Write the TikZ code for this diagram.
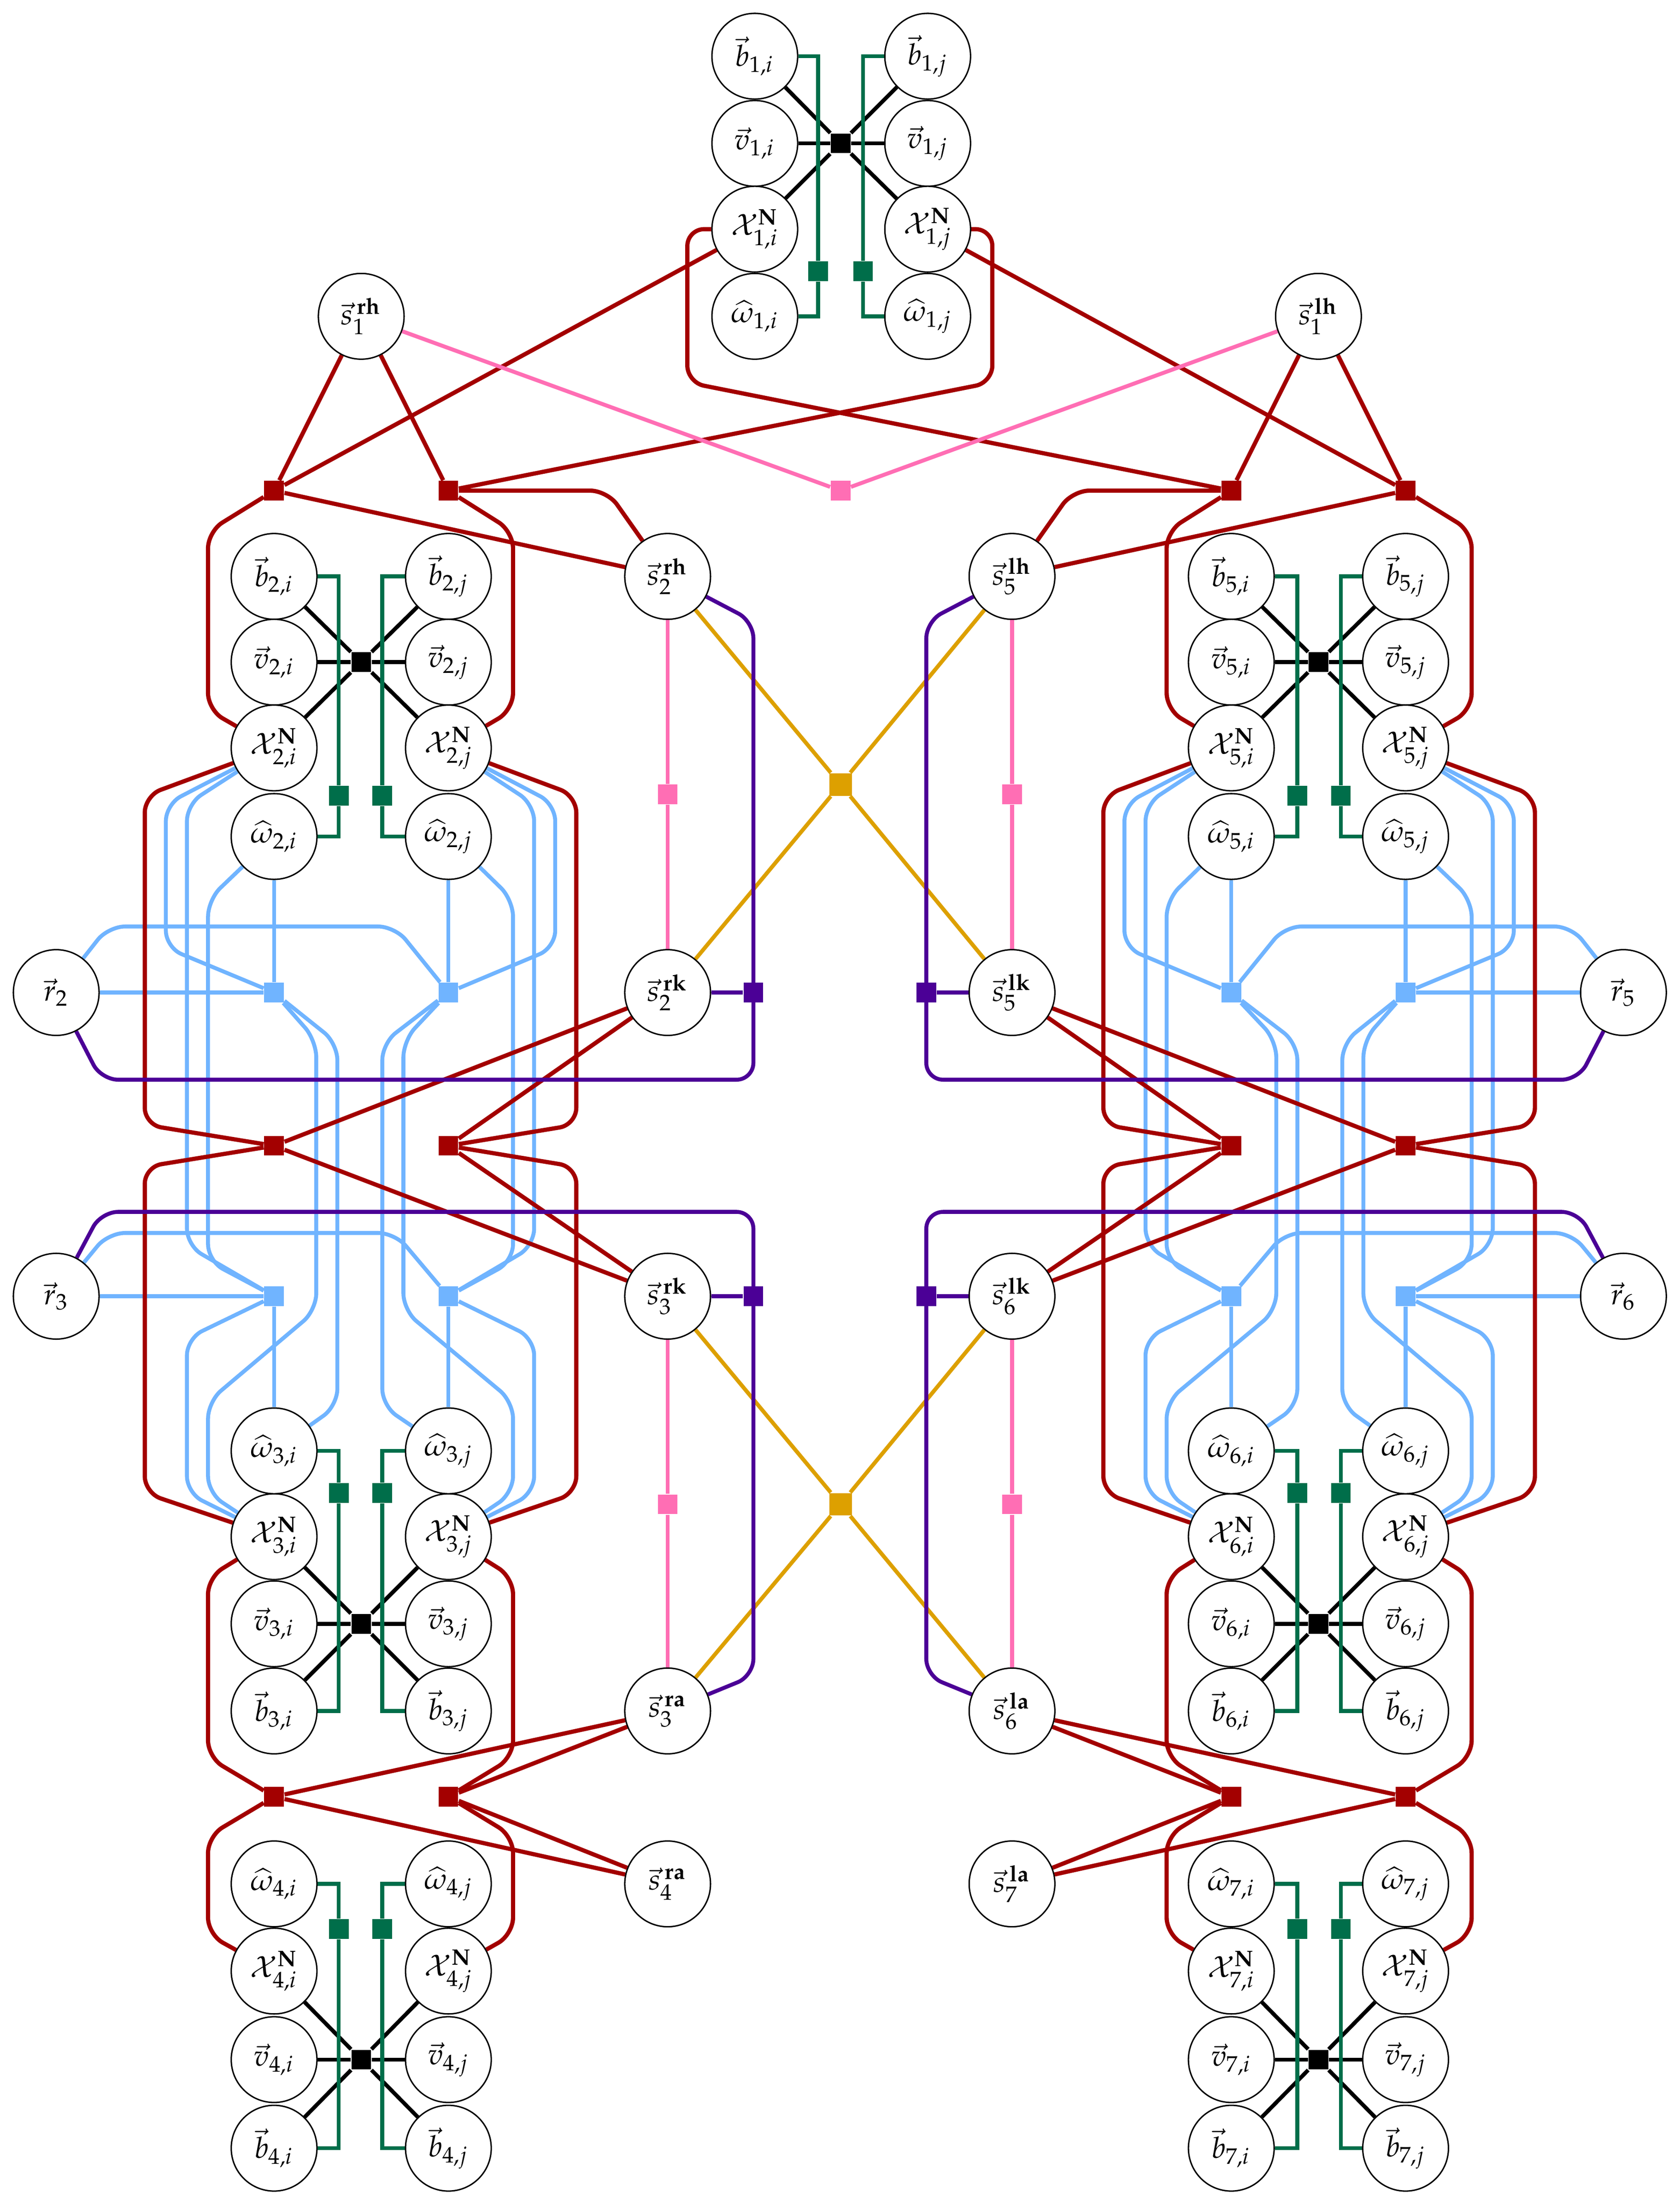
\documentclass[tikz,border=0pt]{standalone}
\usepackage{mathpazo}
\pgfdeclarelayer{bg}\pgfsetlayers{bg,main}
\definecolor{redD}{HTML}{A30000}
\definecolor{grnD}{HTML}{006E4A}
\definecolor{bluL}{HTML}{70B4FF}
\definecolor{pnk}{HTML}{FF6EB4}
\definecolor{org}{HTML}{DDA000}
\definecolor{pur}{HTML}{4B0096}
\tikzset{
 var/.style={circle,draw,line width=0.5pt,fill=white,minimum size=30.5pt,inner sep=0pt,font=\fontsize{10.5}{12}\selectfont},
 fac/.style={rectangle,fill=#1,minimum size=7pt,inner sep=0pt},
 kl/.style={black,line width=1.4pt},
 gl/.style={grnD,line width=1.4pt},
 rl/.style={redD,line width=1.5pt,rounded corners=6pt},
 bl/.style={bluL,line width=1.4pt,rounded corners=6pt},
 pl/.style={pnk,line width=1.4pt},
 ol/.style={org,line width=1.4pt},
 ul/.style={pur,line width=1.4pt,rounded corners=6pt}
}
\newcommand\grp[8]{%
 \node[var] (#1-b) at (#3,#5) {$\vec b_{#2,#4}$};
 \node[var] (#1-v) at (#3,#6) {$\vec v_{#2,#4}$};
 \node[var] (#1-X) at (#3,#7) {$\mathcal{X}^{\mathbf{N}}_{#2,#4}$};
 \node[var] (#1-w) at (#3,#8) {$\widehat\omega_{#2,#4}$};
}
\newcommand\halfside[9]{%
 \node[var] (#1s1) at (257,225) {$\vec s_1^{\,\mathbf{#7h}}$};
 \node[var] (#1s2h) at (475,410) {$\vec s_{#4}^{\,\mathbf{#7h}}$};
 \node[var] (#1s2k) at (475,706) {$\vec s_{#4}^{\,\mathbf{#7k}}$};
 \node[var] (#1s3k) at (475,922) {$\vec s_{#5}^{\,\mathbf{#7k}}$};
 \node[var] (#1s3a) at (475,1217) {$\vec s_{#5}^{\,\mathbf{#7a}}$};
 \node[var] (#1s4a) at (475,1340) {$\vec s_{#6}^{\,\mathbf{#7a}}$};
 \node[var] (#1r2) at (40,706) {$\vec r_{#4}$};
 \node[var] (#1r3) at (40,922) {$\vec r_{#5}$};
 \grp{#1A}{#4}{195}{#2}{410}{471}{532}{595}
 \grp{#1B}{#4}{319}{#3}{410}{471}{532}{595}
 \grp{#1C}{#5}{195}{#2}{1217}{1155}{1093}{1032}
 \grp{#1D}{#5}{319}{#3}{1217}{1155}{1093}{1032}
 \grp{#1E}{#6}{195}{#2}{1528}{1465}{1402}{1340}
 \grp{#1F}{#6}{319}{#3}{1528}{1465}{1402}{1340}
 \node[fac=black] (#1K2) at (257,471) {};
 \node[fac=black] (#1K3) at (257,1155) {};
 \node[fac=black] (#1K4) at (257,1465) {};
 \node[fac=grnD] (#1GA) at (241,566) {};
 \node[fac=grnD] (#1GB) at (272,566) {};
 \node[fac=grnD] (#1GC) at (241,1062) {};
 \node[fac=grnD] (#1GD) at (272,1062) {};
 \node[fac=grnD] (#1GE) at (241,1372) {};
 \node[fac=grnD] (#1GF) at (272,1372) {};
 \node[fac=redD] (#1R1o) at (195,349) {};
 \node[fac=redD] (#1R1i) at (319,349) {};
 \node[fac=redD] (#1R2o) at (195,815) {};
 \node[fac=redD] (#1R2i) at (319,815) {};
 \node[fac=redD] (#1R3o) at (195,1278) {};
 \node[fac=redD] (#1R3i) at (319,1278) {};
 \node[fac=pnk] (#1P1) at (475,565) {};
 \node[fac=pnk] (#1P2) at (475,1070) {};
 \node[fac=pur] (#1U1) at (536,706) {};
 \node[fac=pur] (#1U2) at (536,922) {};
 \node[fac=bluL] (#1L2o) at (195,706) {};
 \node[fac=bluL] (#1L2i) at (319,706) {};
 \node[fac=bluL] (#1L3o) at (195,922) {};
 \node[fac=bluL] (#1L3i) at (319,922) {};
 \begin{pgfonlayer}{bg}
 \foreach \n in {b,v,X}{
  \draw[kl] (#1K2) -- (#1A-\n); \draw[kl] (#1K2) -- (#1B-\n);
  \draw[kl] (#1K3) -- (#1C-\n); \draw[kl] (#1K3) -- (#1D-\n);
  \draw[kl] (#1K4) -- (#1E-\n); \draw[kl] (#1K4) -- (#1F-\n);}
 \draw[gl] (#1A-b) -| (#1GA) |- (#1A-w);
 \draw[gl] (#1B-b) -| (#1GB) |- (#1B-w);
 \draw[gl] (#1C-w) -| (#1GC) |- (#1C-b);
 \draw[gl] (#1D-w) -| (#1GD) |- (#1D-b);
 \draw[gl] (#1E-w) -| (#1GE) |- (#1E-b);
 \draw[gl] (#1F-w) -| (#1GF) |- (#1F-b);
 % blue
 \draw[bl] (#1A-X) -- (118,572) -- (118,674) -- (#1L2o);
 \draw[bl] (#1A-X) -- (133,572) -- (133,886) -- (#1L3o);
 \draw[bl] (#1A-w) -- (148,640) -- (148,897) -- (#1L3o);
 \draw[bl] (#1A-w) -- (#1L2o);
 \draw[bl] (#1L2o) -- (225,740) -- (225,932) -- (148,997) -- (148,1062) -- (#1C-X);
 \draw[bl] (#1L2o) -- (240,742) -- (240,1000) -- (#1C-w);
 \draw[bl] (#1r2) -- (#1L2o);
 \draw[bl] (#1r2) -- (77,659) -- (281,659) -- (#1L2i);
 \draw[bl] (#1B-X) -- (395,572) -- (395,674) -- (#1L2i);
 \draw[bl] (#1B-X) -- (380,572) -- (380,886) -- (#1L3i);
 \draw[bl] (#1B-w) -- (365,640) -- (365,897) -- (#1L3i);
 \draw[bl] (#1B-w) -- (#1L2i);
 \draw[bl] (#1L2i) -- (287,740) -- (287,932) -- (365,997) -- (365,1062) -- (#1D-X);
 \draw[bl] (#1L2i) -- (272,742) -- (272,1000) -- (#1D-w);
 \draw[bl] (#1r3) -- (#1L3o);
 \draw[bl] (#1r3) -- (77,877) -- (281,877) -- (#1L3i);
 \draw[bl] (#1C-w) -- (#1L3o);
 \draw[bl] (#1D-w) -- (#1L3i);
 \draw[bl] (#1L3o) -- (133,952) -- (133,1062) -- (#1C-X);
 \draw[bl] (#1L3i) -- (380,952) -- (380,1062) -- (#1D-X);
 % red
 \draw[rl] (#1R1o) -- (#1s1);
 \draw[rl] (#1R1i) -- (#1s1);
 \draw[rl] (#1R1o) -- (#8);
 \draw[rl] (#9) -- (706,163) -- (706,272) -- (#1R1i);
 \draw[rl] (#1R1o) -- (#1s2h);
 \draw[rl] (#1R1i) -- (432,349) -- (#1s2h);
 \draw[rl] (#1R1o) -- (148,378) -- (148,505) -- (#1A-X);
 \draw[rl] (#1R1i) -- (365,378) -- (365,505) -- (#1B-X);
 \draw[rl] (#1A-X) -- (103,566) -- (103,800) -- (#1R2o);
 \draw[rl] (#1R2o) -- (103,830) -- (103,1062) -- (#1C-X);
 \draw[rl] (#1B-X) -- (410,566) -- (410,800) -- (#1R2i);
 \draw[rl] (#1R2i) -- (410,830) -- (410,1062) -- (#1D-X);
 \draw[rl] (#1R2o) -- (#1s2k); \draw[rl] (#1R2o) -- (#1s3k);
 \draw[rl] (#1R2i) -- (#1s2k); \draw[rl] (#1R2i) -- (#1s3k);
 \draw[rl] (#1C-X) -- (148,1122) -- (148,1250) -- (#1R3o);
 \draw[rl] (#1R3o) -- (148,1306) -- (148,1376) -- (#1E-X);
 \draw[rl] (#1D-X) -- (365,1122) -- (365,1250) -- (#1R3i);
 \draw[rl] (#1R3i) -- (365,1306) -- (365,1376) -- (#1F-X);
 \draw[rl] (#1R3o) -- (#1s3a); \draw[rl] (#1R3o) -- (#1s4a);
 \draw[rl] (#1R3i) -- (#1s3a); \draw[rl] (#1R3i) -- (#1s4a);
 % pink, orange
 \draw[pl] (#1s1) -- (PC);
 \draw[pl] (#1s2h) -- (#1P1) -- (#1s2k);
 \draw[pl] (#1s3k) -- (#1P2) -- (#1s3a);
 \draw[ol] (#1s2h) -- (O1); \draw[ol] (#1s2k) -- (O1);
 \draw[ol] (#1s3k) -- (O2); \draw[ol] (#1s3a) -- (O2);
 % purple
 \draw[ul] (#1s2h) -- (536,442) -- (536,768) -- (72,768) -- (#1r2);
 \draw[ul] (#1U1) -- (#1s2k);
 \draw[ul] (#1r3) -- (72,862) -- (536,862) -- (536,1192) -- (#1s3a);
 \draw[ul] (#1U2) -- (#1s3k);
 \end{pgfonlayer}
}
\begin{document}
\begin{tikzpicture}[x=0.5pt,y=-0.5pt]
\useasboundingbox (0,0) rectangle (1195,1567);
\grp{G1i}{1}{537}{i}{40}{102}{163}{225}
\grp{G1j}{1}{660}{j}{40}{102}{163}{225}
\node[fac=black] (K1) at (598,102) {};
\node[fac=grnD] (GF1i) at (582,193) {};
\node[fac=grnD] (GF1j) at (614,193) {};
\node[fac=pnk] (PC) at (598,349) {};
\node[fac=org,minimum size=8pt] (O1) at (598,558) {};
\node[fac=org,minimum size=8pt] (O2) at (598,1070) {};
\begin{pgfonlayer}{bg}
\foreach \n in {b,v,X}{\draw[kl] (K1) -- (G1i-\n); \draw[kl] (K1) -- (G1j-\n);}
\draw[gl] (G1i-b) -| (GF1i) |- (G1i-w);
\draw[gl] (G1j-b) -| (GF1j) |- (G1j-w);
\end{pgfonlayer}
\halfside{L}{i}{j}{2}{3}{4}{r}{G1i-X}{G1j-X}
\begin{scope}[xshift=597.5pt,xscale=-1]
\halfside{R}{j}{i}{5}{6}{7}{l}{G1j-X}{G1i-X}
\end{scope}
\end{tikzpicture}
\end{document}
